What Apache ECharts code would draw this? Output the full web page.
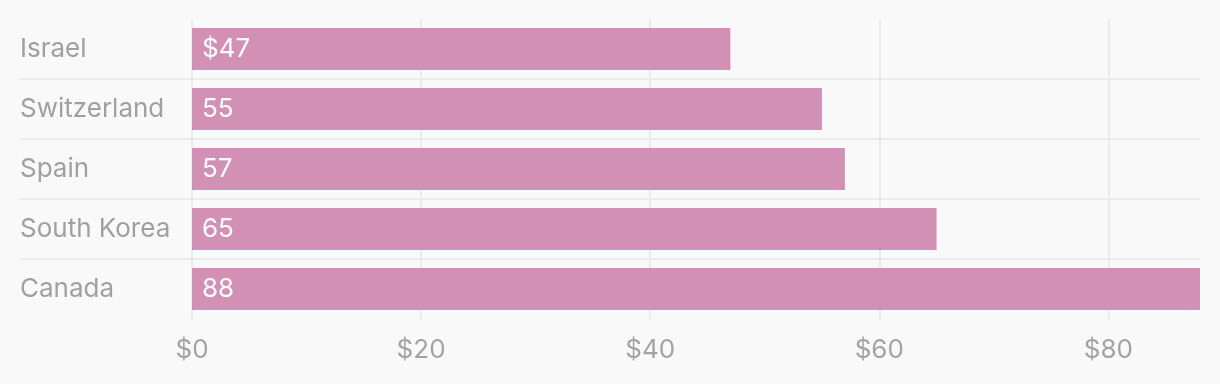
<!DOCTYPE html>
<html><head><meta charset="utf-8">
<script src="https://cdn.jsdelivr.net/npm/echarts@6/dist/echarts.min.js"></script>
<style>html,body{margin:0;padding:0;background:#f9f9f9;}#c{width:1220px;height:384px;}</style>
</head><body><div id="c"></div>
<script>
const categories = ["Israel", "Switzerland", "Spain", "South Korea", "Canada"];
const values = [47, 55, 57, 65, 88];
const xTicks = [0, 20, 40, 60, 80];
const FONT = 'Inter';
const chart = echarts.init(document.getElementById('c'));
chart.setOption({
  backgroundColor: '#f9f9f9',
  animation: false,
  grid: [
    {left: 20, right: 20, top: 19, bottom: 65},
    {left: 192, right: 20, top: 19, bottom: 65}
  ],
  xAxis: [
    {gridIndex: 0, type: 'value', show: false, min: 0, max: 88},
    {gridIndex: 1, type: 'value', min: 0, max: 88, interval: 20,
     axisLine: {show: false}, axisTick: {show: false},
     splitLine: {show: true, showMaxLine: false, lineStyle: {color: '#ebebeb', width: 2}},
     axisLabel: {color: '#a3a3a3', fontSize: 26, fontFamily: FONT, margin: 18,
       formatter: v => xTicks.includes(v) ? '$' + v : ''}}
  ],
  yAxis: [
    {gridIndex: 0, type: 'category', inverse: true, data: categories,
     axisLine: {show: false}, axisTick: {show: false},
     splitLine: {show: true, showMinLine: false, showMaxLine: false, lineStyle: {color: '#ebebeb', width: 2}},
     axisLabel: {inside: true, margin: 0, color: '#a0a0a0', fontSize: 26, fontFamily: FONT, align: 'left', padding: [0,0,6,0]}},
    {gridIndex: 1, type: 'category', inverse: true, data: categories, show: false}
  ],
  series: [{
    type: 'bar', xAxisIndex: 1, yAxisIndex: 1, data: values, barWidth: 42,
    itemStyle: {color: '#d190b4'},
    label: {show: true, position: 'insideLeft', distance: 10, color: '#ffffff', fontSize: 26, fontFamily: FONT,
      formatter: p => (p.dataIndex === 0 ? '$' : '') + p.value}
  }]
});
</script></body></html>
